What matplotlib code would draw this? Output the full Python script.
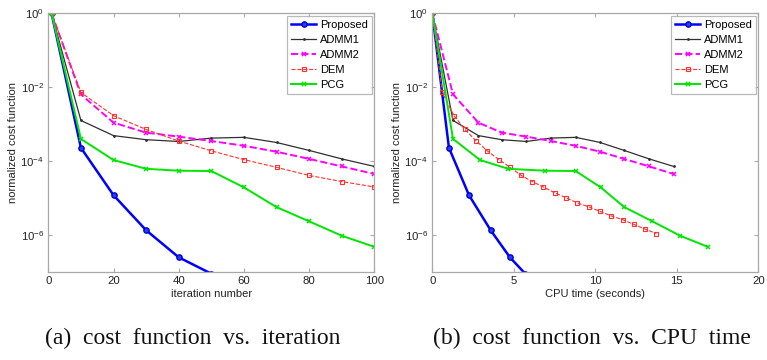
import matplotlib
matplotlib.use("Agg")
import matplotlib.pyplot as plt
from matplotlib.ticker import FixedLocator, NullLocator

plt.rcParams['font.family'] = ['Liberation Sans', 'DejaVu Sans']
plt.rcParams['mathtext.fontset'] = 'custom'
plt.rcParams['mathtext.rm'] = 'Liberation Sans'
plt.rcParams['mathtext.it'] = 'Liberation Sans:italic'

# ---------------- data ----------------
series_names = ["Proposed", "ADMM1", "ADMM2", "DEM", "PCG"]

# (a) cost vs. iteration
prop_iter = [1, 10, 20, 30, 40, 50]
prop_cost = [1.0, 2.3e-4, 1.2e-5, 1.35e-6, 2.5e-7, 9e-8]

admm_iter = [1, 10, 20, 30, 40, 50, 60, 70, 80, 90, 100]
admm1_cost = [1.0, 1.26e-3, 4.9e-4, 3.8e-4, 3.4e-4, 4.2e-4, 4.4e-4, 3.2e-4, 1.95e-4, 1.15e-4, 7.2e-5]
admm2_cost = [1.0, 6.4e-3, 1.1e-3, 5.9e-4, 4.6e-4, 3.5e-4, 2.6e-4, 1.8e-4, 1.15e-4, 7.2e-5, 4.5e-5]

dem_iter = [1, 10, 20, 30, 40, 50, 60, 70, 80, 90, 100]
dem_cost_iter = [1.0, 7.2e-3, 1.7e-3, 7.2e-4, 3.5e-4, 1.9e-4, 1.1e-4, 6.8e-5, 4.1e-5, 2.8e-5, 2.0e-5]

pcg_iter = [1, 10, 20, 30, 40, 50, 60, 70, 80, 90, 100]
pcg_cost = [1.0, 4.0e-4, 1.07e-4, 6.2e-5, 5.5e-5, 5.4e-5, 1.95e-5, 5.7e-6, 2.35e-6, 9.6e-7, 4.8e-7]

# (b) cost vs. CPU time
prop_time = [0, 1.02, 2.25, 3.58, 4.76, 5.7]
admm_time = [0, 1.27, 2.83, 4.26, 5.77, 7.27, 8.8, 10.29, 11.77, 13.3, 14.8]
dem_time = [0, 0.61, 1.33, 2.0, 2.70, 3.37, 4.09, 4.77, 5.46, 6.13, 6.81,
            7.53, 8.2, 8.9, 9.6, 10.27, 10.98, 11.68, 12.36, 13.05, 13.74]
dem_cost_time = [1.0, 7.2e-3, 1.7e-3, 7.2e-4, 3.5e-4, 1.9e-4, 1.1e-4, 6.8e-5, 4.1e-5, 2.8e-5, 2.0e-5,
                 1.38e-5, 1.02e-5, 7.4e-6, 5.8e-6, 4.4e-6, 3.3e-6, 2.6e-6, 1.95e-6, 1.45e-6, 1.1e-6]
pcg_time = [0, 1.27, 2.93, 4.66, 6.91, 8.8, 10.33, 11.78, 13.5, 15.2, 16.9]

ytick_vals = [1e0, 1e-2, 1e-4, 1e-6]
ytick_labels = [r"$10^{0}$", r"$10^{-2}$", r"$10^{-4}$", r"$10^{-6}$"]

captions = ["(a)  cost  function  vs.  iteration", "(b)  cost  function  vs.  CPU  time"]
xlabels = ["iteration number", "CPU time (seconds)"]

# ---------------- styles ----------------
W, H = 767, 360
fig = plt.figure(figsize=(W / 100, H / 100), dpi=100)

frame_col = '#a8a8a8'
txt_col = '#222222'
styles = [
    dict(color='#0000ff', ls='-', lw=1.8, marker='o', ms=3.8, mfc='#2040ff', mec='#0000cc', mew=1.0),
    dict(color='#303030', ls='-', lw=0.9, marker='.', ms=2.0),
    dict(color='#ff00ff', ls='--', lw=1.4, marker='x', ms=2.8, mew=1.1),
    dict(color='#ff3030', ls='--', lw=0.8, marker='s', ms=3.2, mfc='none', mew=0.8),
    dict(color='#00e600', ls='-', lw=1.4, marker='x', ms=2.8, mew=1.1),
]


def make_axes(x0, x1):
    ax = fig.add_axes([x0 / W, (H - 272) / H, (x1 - x0) / W, (272 - 13.3) / H])
    ax.set_yscale('log')
    ax.set_ylim(1e-7, 1.0)
    for s in ax.spines.values():
        s.set_color(frame_col)
        s.set_linewidth(0.9)
    ax.tick_params(which='both', direction='in', top=True, right=True, length=3,
                   color=frame_col, labelsize=8.2, labelcolor=txt_col, pad=3)
    ax.yaxis.set_major_locator(FixedLocator(ytick_vals))
    ax.set_yticklabels(ytick_labels)
    ax.yaxis.set_minor_locator(NullLocator())
    ax.set_ylabel("normalized cost function", fontsize=8, color=txt_col, labelpad=2)
    return ax


ax1 = make_axes(48.3, 374.3)
ax1.plot(prop_iter, prop_cost, label=series_names[0], **styles[0])
ax1.plot(admm_iter, admm1_cost, label=series_names[1], **styles[1])
ax1.plot(admm_iter, admm2_cost, label=series_names[2], **styles[2])
ax1.plot(dem_iter, dem_cost_iter, label=series_names[3], **styles[3])
ax1.plot(pcg_iter, pcg_cost, label=series_names[4], **styles[4])
ax1.set_xlim(0, 100)
ax1.set_xticks([0, 20, 40, 60, 80, 100])

ax2 = make_axes(432.3, 758.3)
ax2.plot(prop_time, prop_cost, label=series_names[0], **styles[0])
ax2.plot(admm_time, admm1_cost, label=series_names[1], **styles[1])
ax2.plot(admm_time, admm2_cost, label=series_names[2], **styles[2])
ax2.plot(dem_time, dem_cost_time, label=series_names[3], **styles[3])
ax2.plot(pcg_time, pcg_cost, label=series_names[4], **styles[4])
ax2.set_xlim(0, 20)
ax2.set_xticks([0, 5, 10, 15, 20])

caption_x = [193, 592]
for ax, xl, cap, cx in zip([ax1, ax2], xlabels, captions, caption_x):
    ax.set_xlabel(xl, fontsize=8, color=txt_col, labelpad=2)
    leg = ax.legend(loc='upper right', fontsize=8, frameon=True, fancybox=False,
                    edgecolor=frame_col, borderaxespad=0.25, handlelength=2.3,
                    labelspacing=0.45, borderpad=0.35, handletextpad=0.3)
    leg.get_frame().set_linewidth(0.9)
    fig.text(cx / W, (H - 338) / H, cap, ha='center', va='center',
             fontsize=17, family='Liberation Serif', color='#111111')

fig.savefig("out.png", dpi=100)
